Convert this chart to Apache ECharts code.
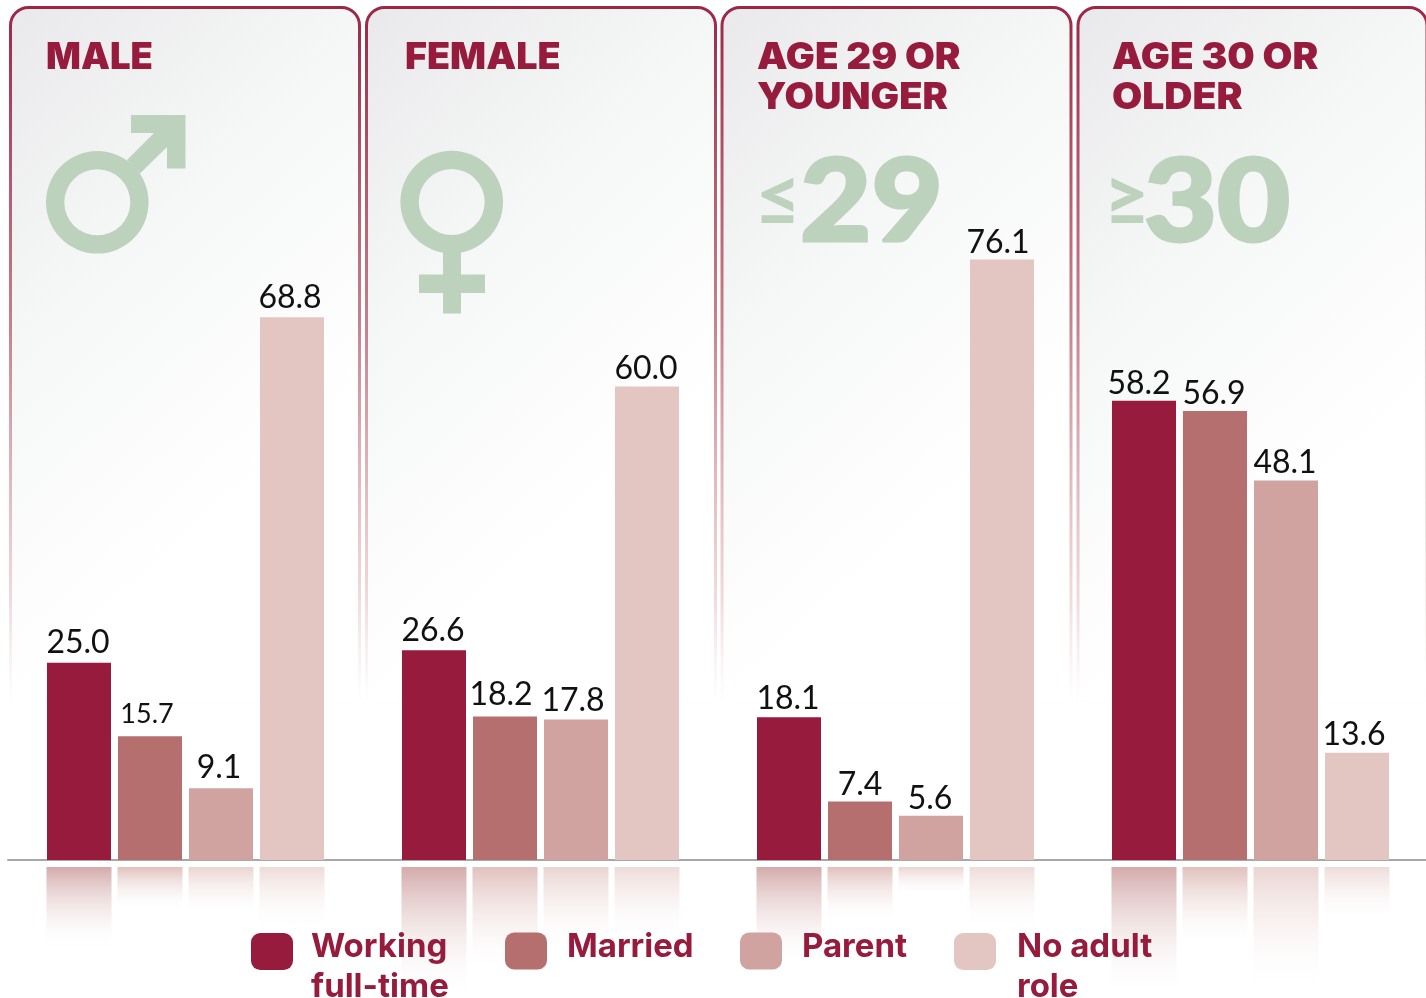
<!DOCTYPE html>
<html><head><meta charset="utf-8">
<style>html,body{margin:0;padding:0;background:#fff;overflow:hidden}#c{width:1440px;height:998px}</style>
<script src="https://cdn.jsdelivr.net/npm/echarts@6/dist/echarts.min.js"></script>
</head><body><div id="c"></div>
<script>
// Data
const categories = ["MALE", "FEMALE", "AGE 29 OR YOUNGER", "AGE 30 OR OLDER"];
const seriesNames = ["Working full-time", "Married", "Parent", "No adult role"];
const workingFullTime = [25.0, 26.6, 18.1, 58.2];
const married = [15.7, 18.2, 7.4, 56.9];
const parent = [9.1, 17.8, 5.6, 48.1];
const noAdultRole = [68.8, 60.0, 76.1, 13.6];
// Length of the faded mirror strip under each bar
const fadeWorking = [84, 131, 100, 131];
const fadeMarried = [44, 106, 56, 80];
const fadeParent = [50, 86, 28, 126];
const fadeNoRole = [64, 76, 64, 56];

// Styles
const barColors = ["#961b3c", "#b66f6f", "#d0a3a0", "#e3c6c2"];
const fadeColors = ["#d4abab", "#e0c1bd", "#ead5d2", "#eddcd9"];
const crimson = "#961b3c", sage = "#bdd2bd";
const panelLeft = [10.5, 366.5, 722, 1078];
const titleLeft = [46, 405, 757, 1112];
const titleLines = [["MALE"], ["FEMALE"], ["AGE 29 OR", "YOUNGER"], ["AGE 30 OR", "OLDER"]];
const titleStretch = [[1.0], [1.033], [1.057, 1.04], [1.06, 1.07]];
const legendLeft = [251, 505, 740, 954];
const legendTextPad = [13, 15, 15, 16];
const legendLines = {"Working full-time":["Working","full-time"],"Married":["Married"],"Parent":["Parent"],"No adult role":["No adult","role"]};
// Hand placement quirks of the printed value labels
const labelNudgeX = [[-1,-1,-1,-5],[-3,-4,0,-1],[-2,-3,-1,-1],[-2,-1,-4,-3]];
const labelNudgeY = [[-1,0,0,1.5],[-3.5,-3,2,2],[-2,0,2,1],[0,1,2.5,1]];

const values = [workingFullTime, married, parent, noAdultRole];
const fades = [fadeWorking, fadeMarried, fadeParent, fadeNoRole];
const grad = (stops) => ({type:'linear',x:0,y:0,x2:0,y2:1,colorStops:stops});

const graphics = [];
panelLeft.forEach((x) => {
  graphics.push({type:'rect', z:-5, silent:true,
    shape:{x:x, y:7.5, width:349, height:695, r:[18,18,0,0]},
    style:{
      fill:{type:'linear',x:0,y:0,x2:1,y2:0.55,colorStops:[{offset:0,color:'#e9e9eb'},{offset:0.5,color:'#f6f7f7'},{offset:1,color:'#ffffff'}]},
      stroke:grad([{offset:0,color:'rgba(150,27,60,0.95)'},{offset:0.45,color:'rgba(170,60,80,0.65)'},{offset:0.85,color:'rgba(200,110,120,0.25)'},{offset:1,color:'rgba(220,160,160,0)'}]),
      lineWidth:3}});
});
titleLines.forEach((lines,i)=>{
  lines.forEach((t,j)=>{
    graphics.push({type:'text', z:1, silent:true, x:titleLeft[i], y:77+j*40, scaleX:titleStretch[i][j],
      style:{text:t, fill:crimson, font:'900 36.5px Inter', verticalAlign:'bottom'}});
  });
});
// Male emblem
graphics.push({type:'ring',z:-1,silent:true,shape:{cx:97.3,cy:202.3,r:51.3,r0:33},style:{fill:sage}});
graphics.push({type:'polygon',z:-1,silent:true,shape:{points:[[131,115],[185.5,115],[185.5,168.5],[167,168.5],[167,147],[140,173.5],[127,160],[154,133],[131,133]]},style:{fill:sage}});
// Female emblem
graphics.push({type:'ring',z:-1,silent:true,shape:{cx:451.7,cy:202,r:51.3,r0:33},style:{fill:sage}});
graphics.push({type:'rect',z:-1,silent:true,shape:{x:443,y:250,width:18,height:63.5},style:{fill:sage}});
graphics.push({type:'rect',z:-1,silent:true,shape:{x:419,y:274.5,width:66,height:18.5},style:{fill:sage}});
// Age emblems
[["\u2264",755,"29",800,1.08],["\u2265",1104,"30",1144,1.105]].forEach(a=>{
  graphics.push({type:'text',z:-1,silent:true,x:a[1],y:161,style:{text:a[0],fill:sage,font:'900 79px Lato',verticalAlign:'top'}});
  graphics.push({type:'text',z:-1,silent:true,x:a[3],y:147,scaleX:a[4],style:{text:a[2],fill:sage,stroke:sage,lineWidth:3,font:'900 114px Lato',verticalAlign:'top'}});
});

const series = [];
seriesNames.forEach((name,s)=>{
  series.push({name, type:'bar', barWidth:64, barGap:'10.94%', xAxisIndex:0, yAxisIndex:0,
    itemStyle:{color:barColors[s]}, silent:true, z:3,
    data:values[s].map((v,c)=>({value:v,label:{
      offset:[labelNudgeX[s][c],labelNudgeY[s][c]],
      fontSize: v===15.7 ? 27 : 32, distance: v===15.7 ? 5 : 3}})),
    label:{show:true, position:'top', color:'#111', fontFamily:'Lato', fontWeight:400,
      formatter:(p)=>p.value.toFixed(1)}});
});
seriesNames.forEach((name,s)=>{
  series.push({name:name+' reflection', type:'bar', barWidth:65, barGap:'9.23%', xAxisIndex:1, yAxisIndex:1, silent:true, z:1,
    itemStyle:{color:grad([{offset:0,color:fadeColors[s]},{offset:1,color:'rgba(255,255,255,0)'}])},
    data:fades[s]});
});

const option = {
  animation:false, backgroundColor:'#ffffff',
  grid:[{left:8,top:71,width:1420,height:789},{left:8,top:867,width:1420,height:131}],
  xAxis:[
    {type:'category',gridIndex:0,data:categories,axisLabel:{show:false},axisTick:{show:false},axisLine:{show:true,lineStyle:{color:'#a8a8a8',width:2}},splitLine:{show:false}},
    {type:'category',gridIndex:1,data:categories,show:false}
  ],
  yAxis:[
    {type:'value',gridIndex:0,min:0,max:100,show:false,splitLine:{show:false}},
    {type:'value',gridIndex:1,min:0,max:131,inverse:true,show:false,splitLine:{show:false}}
  ],
  legend:seriesNames.map((name,i)=>{
    const lines = legendLines[name];
    const two = lines.length>1;
    return {
      data:[name], left:legendLeft[i], top: two ? 906.5 : 931, padding:0, selectedMode:false, icon:'roundRect',
      itemWidth:42, itemHeight:37, itemGap:0, z:10,
      formatter:()=> two ? '{b| }\n'+lines.map(l=>'{a|'+l+'}').join('\n') : '{a|'+lines[0]+'}\n{c| }',
      textStyle:{rich:{
        a:{color:crimson,fontFamily:'Inter',fontWeight:700,fontSize:33,lineHeight:40,padding:[0,0,0,legendTextPad[i]]},
        b:{fontSize:10,lineHeight:32},
        c:{fontSize:10,lineHeight:7}
      }},
      itemStyle:{borderWidth:0}
    };
  }),
  graphic:{elements:graphics},
  series
};
const chart = echarts.init(document.getElementById('c'),null,{renderer:'canvas'});
chart.setOption(option);
</script></body></html>
